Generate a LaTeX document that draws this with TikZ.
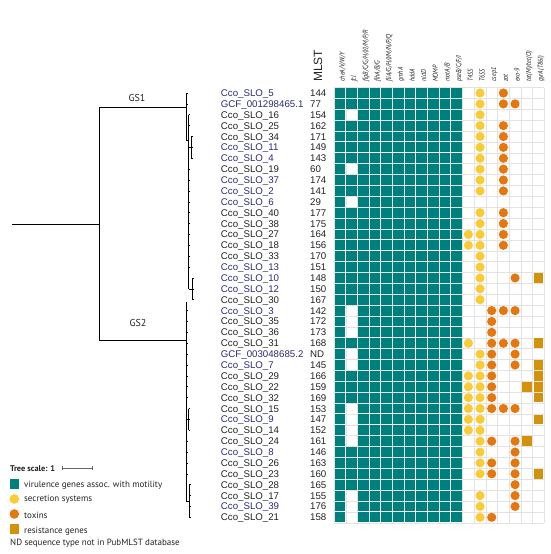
\documentclass[tikz,border=0pt]{standalone}
\usepackage{fontspec}
\setmainfont{Liberation Sans}
\newfontfamily\ptsans{PT Sans}
\newfontfamily\hdrfont[FakeStretch=0.85]{PT Sans}

\definecolor{vir}{HTML}{00807C}
\definecolor{sec}{HTML}{FBCB36}
\definecolor{tox}{HTML}{E5770F}
\definecolor{res}{HTML}{D4920B}
\definecolor{labblue}{HTML}{2B2B72}
\definecolor{ink}{HTML}{222222}
\definecolor{gridgray}{HTML}{E3E3E3}

\tikzset{
  leaf/.style={anchor=base west, inner sep=0pt, font=\fontsize{9.7}{11}\selectfont},
  st/.style={anchor=base west, inner sep=0pt, text=ink, font=\fontsize{9.7}{11}\selectfont},
  hdr/.style={rotate=90, anchor=base west, inner sep=0pt, text=ink, font=\hdrfont\itshape\fontsize{7.2}{8}\selectfont},
  gs/.style={inner sep=0pt, text=ink, font=\ptsans\fontsize{10}{12}\selectfont},
  legtext/.style={anchor=base west, inner sep=0pt, text=ink, font=\ptsans\fontsize{9}{10}\selectfont},
  branch/.style={line width=0.8pt, black},
  tip/.style={line width=0.6pt, black},
  gridline/.style={gridgray, line width=0.5pt},
}

\begin{document}
\begin{tikzpicture}[x=1pt, y=-1pt]
  \useasboundingbox (0,0) rectangle (550,554);

  % tree
  \coordinate (root) at (12,224);
  \coordinate (split) at (99,224);
  \coordinate (gs1) at (186,107.3);
  \coordinate (gs2) at (186,340);
  \draw[branch] (root) -- (split);
  \draw[branch] (split |- gs1) -- (split |- gs2);
  \draw[branch] (split |- gs1) -- (gs1);
  \draw[branch] (split |- gs2) -- (gs2);
  \node[gs] (gs1lab) at (137,97.5) {GS1};
  \node[gs] (gs2lab) at (138,322.5) {GS2};

  % GS1 clade
  \draw[tip] (186,93) -- (186,140);
  \draw[tip] (186,93) -- ++(1.5,0);
  \draw[tip] (186,103.9) -- ++(1.5,0);
  \draw[tip] (186,140) -- (188.5,140);
  \draw[tip] (188.5,114.8) -- (188.5,289);
  \foreach \r in {3,4,8,9,10,11,12,13,14,15,16,17}
    \draw[tip] (188.5,{93+(\r-1)*10.88}) -- ++(1.5,0);
  \draw[tip] (188.5,147.4) -- (191,147.4);
  \draw[tip] (191,136.5) -- (191,158.3);
  \foreach \r in {5,6,7}
    \draw[tip] (191,{93+(\r-1)*10.88}) -- ++(1.5,0);
  \draw[tip] (188.5,289) -- (192.5,289);
  \draw[tip] (192.5,278) -- (192.5,299.7);
  \foreach \r in {18,19,20}
    \draw[tip] (192.5,{93+(\r-1)*10.88}) -- ++(1.2,0);

  % GS2 clade
  \draw[tip] (186,302) -- (186,501);
  \foreach \r in {21,...,29,33,34,35,36}
    \draw[tip] (186,{93+(\r-1)*10.88}) -- ++(2,0);
  \draw[tip] (186,419.4) -- (188.5,419.4);
  \draw[tip] (188.5,408.5) -- (188.5,430.3);
  \foreach \r in {30,31,32}
    \draw[tip] (188.5,{93+(\r-1)*10.88}) -- ++(1.5,0);
  \draw[tip] (186,501) -- (189,501);
  \draw[tip] (189,484.7) -- (189,517.3);
  \foreach \r in {37,38,39,40}
    \draw[tip] (189,{93+(\r-1)*10.88}) -- ++(1.5,0);

  % labels and MLST
  \foreach \r/\name/\num/\col in {
    1/Cco\_SLO\_5/144/labblue, 2/GCF\_001298465.1/77/labblue,
    3/Cco\_SLO\_16/154/ink, 4/Cco\_SLO\_25/162/ink, 5/Cco\_SLO\_34/171/ink,
    6/Cco\_SLO\_11/149/labblue, 7/Cco\_SLO\_4/143/labblue, 8/Cco\_SLO\_19/60/ink,
    9/Cco\_SLO\_37/174/labblue, 10/Cco\_SLO\_2/141/labblue, 11/Cco\_SLO\_6/29/labblue,
    12/Cco\_SLO\_40/177/ink, 13/Cco\_SLO\_38/175/ink, 14/Cco\_SLO\_27/164/ink,
    15/Cco\_SLO\_18/156/ink, 16/Cco\_SLO\_33/170/ink, 17/Cco\_SLO\_13/151/labblue,
    18/Cco\_SLO\_10/148/labblue, 19/Cco\_SLO\_12/150/labblue, 20/Cco\_SLO\_30/167/ink,
    21/Cco\_SLO\_3/142/labblue, 22/Cco\_SLO\_35/172/ink, 23/Cco\_SLO\_36/173/ink,
    24/Cco\_SLO\_31/168/ink, 25/GCF\_003048685.2/ND/labblue, 26/Cco\_SLO\_7/145/labblue,
    27/Cco\_SLO\_29/166/ink, 28/Cco\_SLO\_22/159/ink, 29/Cco\_SLO\_32/169/ink,
    30/Cco\_SLO\_15/153/ink, 31/Cco\_SLO\_9/147/labblue, 32/Cco\_SLO\_14/152/ink,
    33/Cco\_SLO\_24/161/ink, 34/Cco\_SLO\_8/146/labblue, 35/Cco\_SLO\_26/163/ink,
    36/Cco\_SLO\_23/160/ink, 37/Cco\_SLO\_28/165/ink, 38/Cco\_SLO\_17/155/ink,
    39/Cco\_SLO\_39/176/labblue, 40/Cco\_SLO\_21/158/ink}
  {
    \node[leaf, text=\col] (leaf\r) at (220.7,{93+(\r-1)*10.88+3.5}) {\name};
    \node[st] (st\r) at (310,{93+(\r-1)*10.88+3.5}) {\num};
  }

  % headers
  \node[rotate=90, anchor=base west, inner sep=0pt, text=ink, font=\fontsize{12}{14}\selectfont] (mlst) at (322,82) {MLST};
  \node[hdr] (h1) at (344.5,82) {cheA/V/W/Y};
  \node[hdr] (h2) at (356.17,82) {fcl};
  \node[hdr] (h3) at (367.84,82) {flgB/C/G/H/I/J/M/P/R};
  \node[hdr] (h4) at (379.51,82) {flhA/B/G};
  \node[hdr] (h5) at (391.18,82) {fliA/G/H/I/M/N/P/Q};
  \node[hdr] (h6) at (402.85,82) {gmhA};
  \node[hdr] (h7) at (414.52,82) {hddA};
  \node[hdr] (h8) at (426.19,82) {nldD};
  \node[hdr] (h9) at (437.86,82) {MOMP};
  \node[hdr] (h10) at (449.53,82) {motA/B};
  \node[hdr] (h11) at (461.2,82) {pseB/C/F/I};
  \node[hdr] (h12) at (472.87,82) {T4SS};
  \node[hdr] (h13) at (484.54,82) {T6SS};
  \node[hdr] (h14) at (496.21,82) {csep1};
  \node[hdr] (h15) at (507.88,82) {zot};
  \node[hdr] (h16) at (519.55,82) {exo-9};
  \node[hdr] (h17) at (531.22,82) {tet(M)/tet(O)};
  \node[hdr] (h18) at (542.89,82) {gyrA(T86I)};

  % grid
  \foreach \k in {0,...,18}
    \draw[gridline] ({334.17+\k*11.67},87.56) -- ++(0,435.2);
  \foreach \k in {0,...,40}
    \draw[gridline] (334.17,{87.56+\k*10.88}) -- (544.2,{87.56+\k*10.88});

  % motility genes
  \foreach \r in {1,...,40}
    \foreach \c in {1,3,4,5,6,7,8,9,10,11}
      \fill[vir] ({334.17+(\c-1)*11.67+0.5},{87.56+(\r-1)*10.88+0.5}) rectangle ++(10.67,9.88);
  \foreach \r in {1,2,4,5,6,7,9,10,12,13,14,15,16,17,18,19,20,24,27,28,29,34,35,36,37}
    \fill[vir] ({334.17+11.67+0.5},{87.56+(\r-1)*10.88+0.5}) rectangle ++(10.67,9.88);

  % secretion systems
  \foreach \c/\rows in {12/{14,15,24,27,28,29,30,31,32},
      13/{1,2,3,4,5,6,7,8,9,10,12,13,14,15,16,17,18,19,20,25,26,27,28,29,30,31,32,33,34,35,36,38,39,40}}
    \foreach \r in \rows
      \fill[sec] ({340+(\c-1)*11.67},{93+(\r-1)*10.88}) circle (4.6pt);

  % toxins
  \foreach \c/\rows in {14/{21,22,23,24,25,26,27,28,29,30,33,35,36,40},
      15/{1,2,4,5,6,7,8,9,10,12,13,14,15,21,24,30},
      16/{2,18,21,24,25,26,30,33,34,35,36,37,38,39}}
    \foreach \r in \rows
      \fill[tox] ({340+(\c-1)*11.67},{93+(\r-1)*10.88}) circle (4.6pt);

  % resistance genes
  \foreach \c/\rows in {17/{28,33}, 18/{18,24,26,27,28,29,31,36}}
    \foreach \r in \rows
      \fill[res] ({340+(\c-1)*11.67-4.8},{93+(\r-1)*10.88-4.8}) rectangle ++(9.6,9.6);

  % legend
  \node[legtext, font=\ptsans\bfseries\fontsize{8.3}{10}\selectfont] (scale) at (10,471) {Tree scale: 1};
  \draw[ink!70, line width=0.6pt] (62,468) -- (92,468);
  \draw[ink!70, line width=0.6pt] (62,466.3) -- (62,469.7);
  \draw[ink!70, line width=0.6pt] (92,466.3) -- (92,469.7);
  \fill[vir] (9.7,479.3) rectangle (19,489.3);
  \node[legtext] (legvir) at (24,487.7) {virulence genes assoc. with motility};
  \fill[sec] (14.3,499) circle (4.8pt);
  \node[legtext] (legsec) at (24,501.7) {secretion systems};
  \fill[tox] (14.3,514) circle (4.8pt);
  \node[legtext] (legtox) at (24,518.3) {toxins};
  \fill[res] (9.7,524) rectangle (19,534);
  \node[legtext] (legres) at (24,533.3) {resistance genes};
  \node[legtext] (legnd) at (10,545.7) {ND sequence type not in PubMLST database};
\end{tikzpicture}
\end{document}
